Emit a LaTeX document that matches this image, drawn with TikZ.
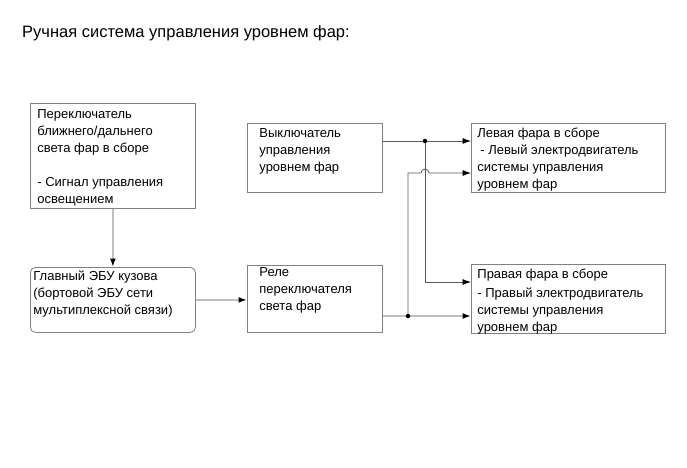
\documentclass[tikz,border=0pt]{standalone}
\usepackage{fontspec}
\setmainfont{Liberation Sans}
\usetikzlibrary{arrows.meta,calc}
\newcommand{\blk}[3]{\parbox[t][#2][t]{#1}{\raggedright #3}}

\begin{document}
\begin{tikzpicture}[x=1pt, y=-1pt,
  box/.style={draw=black!50, line width=0.8pt, anchor=north west,
              font=\fontsize{13}{17}\selectfont},
  feed/.style={draw=black!25, line width=1.8pt},
  sig/.style={draw=black!65, line width=0.8pt},
  arr/.style={-{Latex[length=8.5pt, width=6pt, color=black]}},
  dot/.style={circle, fill=black, inner sep=0pt, minimum size=4.5pt}]

\useasboundingbox (0,0) rectangle (687,467);

\node[anchor=west, inner sep=0pt, font=\fontsize{16.5}{19}\selectfont] (title) at (22,33)
  {Ручная система управления уровнем фар:};

\node[box, inner xsep=7pt, inner ysep=6pt] (sw) at (30,103)
  {\blk{151pt}{93pt}{Переключатель\\ ближнего/дальнего\\ света фар в сборе\\[17pt]
   - Сигнал управления\\ освещением}};
\node[box, rounded corners=5pt, inner xsep=3pt, inner ysep=3.5pt] (ecu) at (30,267)
  {\blk{159pt}{58pt}{Главный ЭБУ кузова\\ (бортовой ЭБУ сети\\ мультиплексной связи)}};
\node[box, inner xsep=12pt, inner ysep=5pt] (hsw) at (247,123)
  {\blk{111pt}{59pt}{Выключатель\\ управления\\ уровнем фар}};
\node[box, inner xsep=12pt, inner ysep=2.5pt] (relay) at (247,265)
  {\blk{111pt}{62pt}{Реле\\ переключателя\\ света фар}};
\node[box, inner xsep=6pt, inner ysep=5pt] (lh) at (471,123)
  {\blk{182pt}{59pt}{Левая фара в сборе\\ \hspace*{3pt}- Левый электродвигатель\\
   системы управления\\ уровнем фар}};
\node[box, inner xsep=6pt, inner ysep=4.5pt] (rh) at (471,264)
  {\blk{182pt}{60pt}{Правая фара в сборе\\[2pt] - Правый электродвигатель\\
   системы управления\\ уровнем фар}};

\coordinate (j1) at (425,141);
\coordinate (j2) at (408,316);
\coordinate (r1) at (471,282);
\coordinate (l2) at (471,173);

\draw[feed, arr] (sw) -- (ecu);
\draw[feed, arr] (ecu.east) -- (ecu.east -| relay.west);
\draw[feed, arr] (relay.east |- j2) -- (rh.west |- j2);
\draw[sig, arr] (hsw.east |- j1) -- (lh.west |- j1);
\draw[sig, arr] (j1) |- (r1);
\draw[sig, arr] (j2) -- (j2 |- l2) -- ($(j1 |- l2)+(-4,0)$)
  arc[start angle=180, end angle=0, radius=4pt] -- (l2);
\node[dot] at (j1) {};
\node[dot] at (j2) {};
\end{tikzpicture}
\end{document}
